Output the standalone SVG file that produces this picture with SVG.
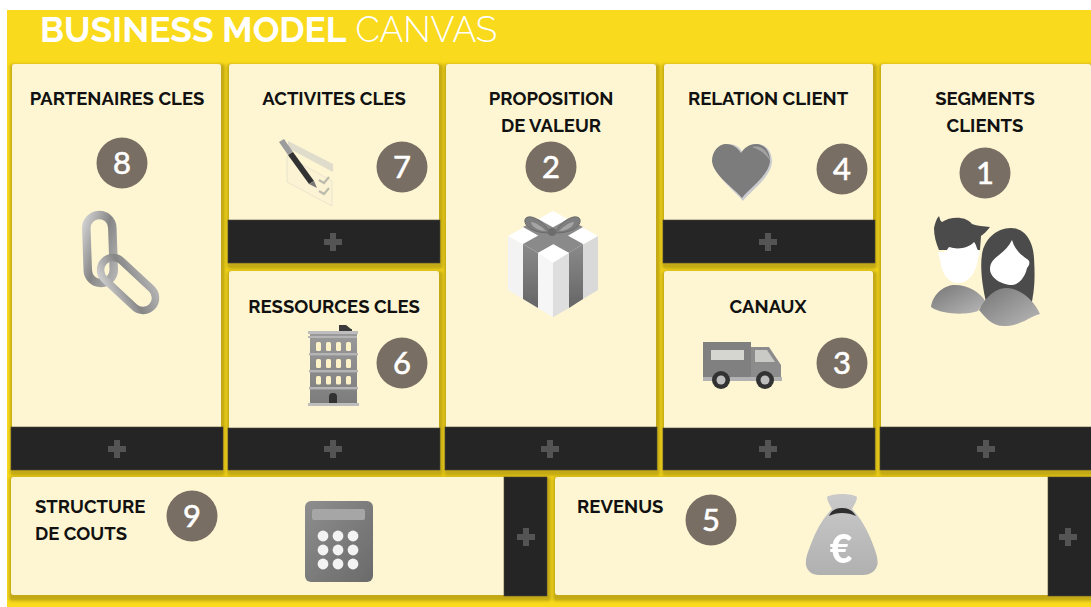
<svg xmlns="http://www.w3.org/2000/svg" width="1091" height="607" viewBox="0 0 1091 607">
<style>
.card{fill:#fef6d2;filter:url(#sh)}
.bar{fill:#252525;stroke:#4a4636;stroke-width:.6}
.plus{fill:#545454}
.t{font-family:Raleway,Lato,"Liberation Sans",sans-serif;font-weight:700;font-size:18.5px;fill:#111;text-anchor:middle}
.l{text-anchor:start}
.badge{fill:#796e63}
.n{font-family:Lato,"Open Sans",sans-serif;font-size:31px;fill:#fff;stroke:#fff;stroke-width:.6;text-anchor:middle}
.head{font-family:Raleway,Lato,"Liberation Sans",sans-serif;font-size:35.3px;fill:#fff}
</style>
<defs>
<filter id="sh" x="-4%" y="-6%" width="108%" height="116%">
<feMorphology in="SourceAlpha" operator="dilate" radius="3" result="d"/>
<feOffset in="d" dy="2.5" dx=".5" result="o"/>
<feGaussianBlur in="o" stdDeviation="1.6" result="b"/>
<feFlood flood-color="#c3a913"/>
<feComposite in2="b" operator="in" result="s"/>
<feMerge><feMergeNode in="s"/><feMergeNode in="SourceGraphic"/></feMerge>
</filter>
<filter id="bl" x="-5%" y="-5%" width="110%" height="110%"><feGaussianBlur stdDeviation=".35"/></filter>
<linearGradient id="metal" x1="0" y1="0" x2="1" y2="1"><stop offset="0" stop-color="#cfcfcf"/><stop offset=".5" stop-color="#868686"/><stop offset="1" stop-color="#b4b4b4"/></linearGradient>
<linearGradient id="grey" x1="0" y1="0" x2="1" y2="1"><stop offset="0" stop-color="#8e8e8e"/><stop offset="1" stop-color="#6a6a6a"/></linearGradient>
<linearGradient id="bld" x1="0" y1="0" x2="0" y2="1"><stop offset="0" stop-color="#9a9a9a"/><stop offset="1" stop-color="#7c7c7c"/></linearGradient>
<linearGradient id="bag" x1="0" y1="0" x2="0" y2="1"><stop offset="0" stop-color="#cacaca"/><stop offset="1" stop-color="#b0b0b0"/></linearGradient>
<linearGradient id="sh1" x1="0" y1="0" x2="1" y2="1"><stop offset="0" stop-color="#767676"/><stop offset="1" stop-color="#b8b8b8"/></linearGradient>
<linearGradient id="rib" x1="0" y1="0" x2="0" y2="1"><stop offset="0" stop-color="#8a8a8a"/><stop offset="1" stop-color="#666"/></linearGradient>
<path id="plus" d="M-3-9h6v6h6v6h-6v6h-6v-6h-6v-6h6z"/>
</defs>
<rect x="7" y="10" width="1084" height="597" fill="#f9da1d"/>
<text class="head" x="40" y="42"><tspan font-weight="700">BUSINESS MODEL</tspan> <tspan font-weight="300">CANVAS</tspan></text>

<g id="connectors"/>

<g id="node-8">
<rect class="card" x="12" y="64" width="209" height="406" rx="3"/>
<rect class="bar" x="11" y="427" width="212" height="43"/>
<use class="plus" href="#plus" x="117" y="449"/>
<text class="t" x="117" y="105">PARTENAIRES CLES</text>
<circle class="badge" cx="122" cy="163" r="25.5"/><text class="n" x="122" y="174">8</text>
<g fill="none" filter="url(#bl)">
<rect x="-13" y="-33" width="26" height="68" rx="13" transform="translate(100 248) rotate(-2)" stroke="url(#metal)" stroke-width="8.5"/>
<rect x="-12.5" y="-33" width="25" height="66" rx="12.5" transform="translate(128 284) rotate(-47)" stroke="url(#metal)" stroke-width="7.5"/>
</g>
</g>

<g id="node-7">
<rect class="card" x="229" y="64" width="210" height="199" rx="3"/>
<rect class="bar" x="228" y="220" width="212" height="43"/>
<use class="plus" href="#plus" x="333" y="242"/>
<text class="t" x="334" y="105">ACTIVITES CLES</text>
<circle class="badge" cx="402" cy="167" r="25.5"/><text class="n" x="402" y="178">7</text>
<g filter="url(#bl)">
<path d="M287 156l45 25v25l-45-24z" fill="#fbf3d4" stroke="#e4e0cb" stroke-width=".8"/>
<path d="M288 141l45 23v8l-45-24z" fill="#dfdccb"/>
<path d="M319 180l5 3 5-6M319 191l5 3 5-6" stroke="#bdbbad" stroke-width="2.2" fill="none"/>
<path d="M279 142l5-3 9 13-5 3z" fill="#9c9c9c"/>
<path d="M288 155l5-3 21 29-5 3z" fill="#333"/>
<path d="M309 184l5-3 3 7z" fill="#777"/>
</g>
</g>

<g id="node-6">
<rect class="card" x="229" y="271" width="210" height="199" rx="3"/>
<rect class="bar" x="228" y="428" width="212" height="42"/>
<use class="plus" href="#plus" x="333" y="449"/>
<text class="t" x="334" y="313">RESSOURCES CLES</text>
<circle class="badge" cx="402" cy="363" r="25.5"/><text class="n" x="402" y="374">6</text>
<g filter="url(#bl)">
<path d="M339 325h7l5 4h1v4h-13z" fill="#3a3a3a"/>
<rect x="310" y="333" width="47" height="72" fill="url(#bld)"/>
<rect x="308" y="331" width="50" height="3" fill="#bdbdbd"/>
<rect x="308" y="336" width="49" height="2" fill="#b5b5b5"/>
<rect x="309" y="353" width="49" height="2.4" fill="#b5b5b5"/>
<rect x="309" y="370" width="49" height="2.4" fill="#b5b5b5"/>
<rect x="309" y="387" width="49" height="2.4" fill="#b5b5b5"/>
<g fill="#fdf2c8">
<rect x="316" y="342" width="5" height="9" rx="1.5"/><rect x="326" y="342" width="5" height="9" rx="1.5"/><rect x="336" y="342" width="5" height="9" rx="1.5"/><rect x="346" y="342" width="5" height="9" rx="1.5"/>
<rect x="316" y="359" width="5" height="9" rx="1.5"/><rect x="326" y="359" width="5" height="9" rx="1.5"/><rect x="336" y="359" width="5" height="9" rx="1.5"/><rect x="346" y="359" width="5" height="9" rx="1.5"/>
<rect x="316" y="376" width="5" height="8.5" rx="1.5"/><rect x="326" y="376" width="5" height="8.5" rx="1.5"/><rect x="336" y="376" width="5" height="8.5" rx="1.5"/><rect x="346" y="376" width="5" height="8.5" rx="1.5"/>
</g>
<rect x="329" y="393" width="8" height="13" rx="3.5" fill="#333"/>
<rect x="308" y="403" width="51" height="3" fill="#bdbdbd"/>
</g>
</g>

<g id="node-2">
<rect class="card" x="446" y="64" width="210" height="406" rx="3"/>
<rect class="bar" x="445" y="427" width="212" height="43"/>
<use class="plus" href="#plus" x="550" y="449"/>
<text class="t" x="551" y="105">PROPOSITION</text>
<text class="t" x="551" y="132">DE VALEUR</text>
<circle class="badge" cx="551" cy="167" r="25.5"/><text class="n" x="551" y="178">2</text>
<g filter="url(#bl)">
<path d="M553 211l45 25-45 26-45-26z" fill="#fff"/>
<path d="M508 236l45 26v55l-45-27z" fill="#f3f3f3"/>
<path d="M598 236l-45 26v55l45-27z" fill="#d9d9d9"/>
<path d="M523 244l15 9v55l-15-9z" fill="url(#rib)"/>
<path d="M583 244l-14 9v55l14-9z" fill="url(#rib)"/>
<path d="M523 244l15 9 45-26-15-8z" fill="#8a8a8a"/>
<path d="M583 244l-14 9-46-26 15-8z" fill="#8a8a8a"/>
<path d="M553 245l16 8-16 10-15-10z" fill="#fff"/>
<path d="M538 253l15 10v54l-15-9z" fill="#f6f6f6"/>
<path d="M569 253l-16 10v54l16-9z" fill="#dedede"/>
<path d="M550 233c-6-12-19-19-24-15-4 4 2 15 24 15z" fill="#7e7e7e" stroke="#6a6a6a" stroke-width="1"/>
<path d="M531 222c5 0 12 6 15 9-6 0-14-3-15-9z" fill="#a5a5a5"/>
<path d="M555 233c6-12 19-19 24-15 4 4-2 15-24 15z" fill="#7e7e7e" stroke="#6a6a6a" stroke-width="1"/>
<path d="M574 222c-5 0-12 6-15 9 6 0 14-3 15-9z" fill="#a5a5a5"/>
<circle cx="552" cy="232" r="4" fill="#6c6c6c"/>
</g>
</g>

<g id="node-4">
<rect class="card" x="664" y="64" width="209" height="199" rx="3"/>
<rect class="bar" x="663" y="220" width="212" height="43"/>
<use class="plus" href="#plus" x="768" y="242"/>
<text class="t" x="768" y="105">RELATION CLIENT</text>
<circle class="badge" cx="842" cy="169" r="25.5"/><text class="n" x="842" y="180">4</text>
<g filter="url(#bl)">
<path d="M743 201c-8-10-28-24-29-39 0-11 7-18 14-18 7 0 12 3 15 9 3-6 8-9 14-9 9 0 15 7 15 18-1 15-21 29-29 39z" fill="#c9cbcf"/>
<path d="M742 198c-8-10-29-23-30-37 0-10 7-17 14-17 7 0 12 4 15 9 3-5 8-9 15-9 8 0 14 7 14 17-1 14-20 27-28 37z" fill="#7b7b7b"/>
<path d="M752 147c10-2 16 4 18 14-3-6-9-11-18-14z" fill="#a2a2a2"/>
</g>
</g>

<g id="node-3">
<rect class="card" x="664" y="271" width="209" height="199" rx="3"/>
<rect class="bar" x="663" y="428" width="212" height="42"/>
<use class="plus" href="#plus" x="768" y="449"/>
<text class="t" x="768" y="313">CANAUX</text>
<circle class="badge" cx="842" cy="363" r="25.5"/><text class="n" x="842" y="374">3</text>
<g filter="url(#bl)">
<rect x="703" y="342" width="48" height="38" fill="#808080"/>
<path d="M751 347h18l12 18v15h-30z" fill="#8c8c8c"/>
<rect x="711" y="350" width="33" height="10" fill="#d6d6d0"/>
<path d="M755 350h12l8 12h-20z" fill="#c9c9c5"/>
<rect x="703" y="377" width="79" height="4" fill="#b2b2b2"/>
<circle cx="721" cy="380" r="9" fill="#333"/><circle cx="721" cy="380" r="4.5" fill="#bdbdbd"/>
<circle cx="765" cy="380" r="9" fill="#333"/><circle cx="765" cy="380" r="4.5" fill="#bdbdbd"/>
</g>
</g>

<g id="node-1">
<rect class="card" x="881" y="64" width="210" height="406" rx="3"/>
<rect class="bar" x="880" y="427" width="212" height="43"/>
<use class="plus" href="#plus" x="986" y="449"/>
<text class="t" x="985" y="105">SEGMENTS</text>
<text class="t" x="985" y="132">CLIENTS</text>
<circle class="badge" cx="985" cy="173" r="25.5"/><text class="n" x="985" y="184">1</text>
<g filter="url(#bl)">
<path d="M934 228c1-4 2-9 5-12 1 3 1 5 3 6 9-6 24-6 30 2 5 2 12 2 18 3-3 4-6 7-9 9l-1 14h-41c-3-7-5-14-5-22z" fill="#4b4b4b"/>
<path d="M938 252c5 1 8 0 11-5 9 3 20 1 25-5 3 3 2 7 5 9 1 3 0 5-1 7-1 12-8 25-20 25-10 0-17-11-18-24-1-2-2-5-2-7z" fill="#fff"/>
<path d="M1011 228c14 0 22 13 23 30 1 18 1 30-3 48h-44c-5-20-7-38-5-52 2-14 14-26 29-26z" fill="#4b4b4b"/>
<path d="M1012 240c3 10 9 15 15 19 2 1 3 3 2 6-1 2-2 3-2 3-2 10-9 17-15 17-10 0-22-7-22-16 0-7 5-11 9-14 6-5 10-9 13-15z" fill="#fff"/>
<path d="M931 307c2-14 14-22 24-22 13 0 25 7 31 17-4 3-6 5-8 9-10 4-36 4-47-4z" fill="url(#sh1)"/>
<path d="M979 310c6-12 16-22 27-22 15 0 29 14 34 26-11 3-18 11-34 12-14 1-21-9-27-16z" fill="url(#sh1)"/>
</g>
</g>

<g id="node-9">
<rect class="card" x="11" y="477" width="536" height="118" rx="3"/>
<rect class="bar" x="504" y="477" width="43" height="119"/>
<use class="plus" href="#plus" x="526" y="537"/>
<text class="t l" x="35" y="513">STRUCTURE</text>
<text class="t l" x="35" y="540">DE COUTS</text>
<circle class="badge" cx="192" cy="516" r="25.5"/><text class="n" x="192" y="527">9</text>
<g filter="url(#bl)">
<rect x="305" y="501" width="68" height="81" rx="6" fill="url(#grey)"/>
<rect x="312" y="509" width="53" height="11" rx="2" fill="#a6a6a6"/>
<g fill="#f3f3f3">
<circle cx="323" cy="536" r="5.4"/><circle cx="338" cy="536" r="5.4"/><circle cx="353" cy="536" r="5.4"/>
<circle cx="323" cy="550" r="5.4"/><circle cx="338" cy="550" r="5.4"/><circle cx="353" cy="550" r="5.4"/>
<circle cx="323" cy="564" r="5.4"/><circle cx="338" cy="564" r="5.4"/><circle cx="353" cy="564" r="5.4"/>
</g>
</g>
</g>

<g id="node-5">
<rect class="card" x="555" y="477" width="536" height="118" rx="3"/>
<rect class="bar" x="1048" y="477" width="44" height="119"/>
<use class="plus" href="#plus" x="1068" y="537"/>
<text class="t l" x="577" y="513">REVENUS</text>
<circle class="badge" cx="711" cy="520" r="25.5"/><text class="n" x="711" y="531">5</text>
<g filter="url(#bl)">
<path d="M827 497c5-4 26-4 30 0 0 4-3 8-5 12 8 8 15 20 20 33 4 10 7 19 5 24-2 6-8 9-14 9h-44c-7 0-12-4-13-10-1-7 3-16 7-26 5-12 11-22 19-30-2-4-5-8-5-12z" fill="url(#bag)"/>
<path d="M829 516c2-5 6-8 13-8s11 3 14 8c-4-2-9-3-14-3s-9 1-13 3z" fill="#2e2e2e"/>
<text x="841" y="563" font-family="Lato,'Open Sans',sans-serif" font-weight="900" font-size="39" fill="#fff" text-anchor="middle">€</text>
</g>
</g>
</svg>
